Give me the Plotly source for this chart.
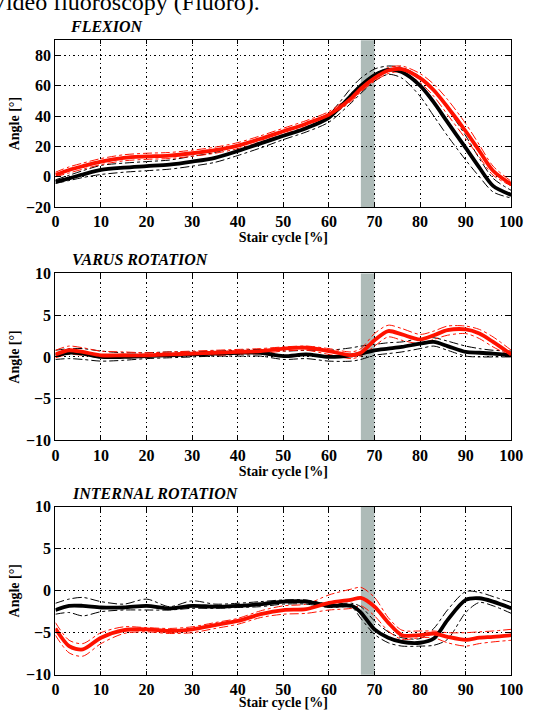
import plotly.graph_objects as go

# ---------------- data ----------------
cycle = [0, 3, 6, 10, 15, 20, 25, 30, 35, 40, 45, 50, 55, 60, 65, 67, 70, 73, 76, 80, 83, 86, 90, 93, 96, 100]

flex_black_mean = [-3.4, -1, 1.5, 4.5, 6, 7, 8, 10, 12.5, 17, 22, 27, 32, 39, 54, 60, 67, 70.5, 69, 60, 49, 36, 19, 6, -6, -12]
flex_black_up = [-2, 1, 4, 7.5, 9, 10, 11, 13.5, 16, 20.5, 25, 29.5, 34.5, 41.5, 59, 65, 71, 73, 72, 66, 57, 45, 27, 12, -1, -9]
flex_black_lo = [-4.4, -2.5, -0.5, 1.5, 3, 4, 5, 7, 9.5, 14, 19, 24.5, 29.5, 36, 49, 55, 63, 67.5, 65, 53, 40, 27, 11, 0, -10, -14]
flex_red_mean = [1.3, 4.5, 7, 10, 12.5, 13.4, 14, 15.5, 17.5, 20.5, 25, 30, 35, 41, 52, 58, 65, 70, 71, 65, 57, 46, 30, 17, 4, -5]
flex_red_up = [3, 6.5, 9, 12, 14.5, 15.5, 16, 17.5, 19.5, 22.5, 27, 32, 37, 43, 54, 60, 67, 72, 73, 68, 61, 51, 35, 21, 7, -3]
flex_red_lo = [0, 2.5, 5, 8, 10.5, 11.5, 12, 13.5, 15.5, 18.5, 23, 28, 33, 39.5, 50, 56, 63, 68, 69, 62, 53, 41, 25, 13, 1, -6]

var_black_mean = [0.2, 0.5, 0.4, 0.0, 0.0, 0.1, 0.2, 0.3, 0.4, 0.5, 0.5, 0.1, 0.3, 0.0, 0.2, 0.4, 0.8, 1.0, 1.2, 1.6, 1.8, 1.3, 0.6, 0.5, 0.4, 0.2]
var_black_up = [0.8, 1.0, 1.0, 0.7, 0.5, 0.5, 0.6, 0.6, 0.7, 0.8, 0.9, 0.7, 0.8, 0.8, 1.1, 1.3, 1.5, 1.7, 1.8, 2.2, 2.3, 1.9, 1.3, 1.0, 0.8, 0.7]
var_black_lo = [-0.3, -0.2, -0.3, -0.5, -0.4, -0.2, -0.1, 0.0, 0.1, 0.1, 0.1, -0.3, -0.2, -0.5, -0.5, -0.3, 0.2, 0.4, 0.6, 1.0, 1.3, 0.8, 0.1, 0.0, 0.0, 0.0]
var_red_mean = [0.3, 0.8, 0.6, 0.2, 0.2, 0.2, 0.3, 0.4, 0.5, 0.6, 0.7, 1.0, 1.1, 0.7, 0.2, 0.5, 2.0, 3.1, 2.7, 2.1, 2.6, 3.2, 3.3, 2.8, 1.8, 0.3]
var_red_up = [0.8, 1.3, 1.1, 0.7, 0.6, 0.5, 0.6, 0.7, 0.8, 0.9, 1.0, 1.2, 1.3, 1.0, 0.6, 1.0, 2.8, 3.8, 3.4, 2.7, 3.1, 3.7, 3.7, 3.3, 2.4, 0.8]
var_red_lo = [-0.1, 0.3, 0.2, -0.1, -0.1, 0.0, 0.1, 0.2, 0.2, 0.3, 0.4, 0.7, 0.8, 0.3, -0.2, 0.1, 1.3, 2.4, 2.0, 1.6, 2.1, 2.6, 2.8, 2.2, 1.2, 0.1]

int_black_mean = [-2.3, -1.8, -1.8, -2.0, -2.0, -1.8, -2.1, -1.8, -1.9, -1.8, -1.6, -1.3, -1.3, -1.8, -1.8, -2.6, -4.6, -5.6, -6.1, -6.2, -5.7, -3.5, -1.1, -0.9, -1.3, -2.1]
int_black_up = [-1.5, -1.0, -0.8, -1.3, -1.6, -1.0, -1.9, -1.2, -1.6, -1.5, -1.3, -1.1, -1.1, -1.6, -1.5, -1.9, -3.6, -4.9, -5.6, -5.7, -4.5, -2.3, -0.1, -0.2, -0.7, -1.4]
int_black_lo = [-2.8, -2.6, -3.0, -2.5, -2.3, -2.3, -2.3, -2.1, -2.1, -2.0, -1.9, -1.6, -1.6, -2.0, -2.0, -3.3, -5.2, -6.2, -6.6, -6.6, -6.5, -5.8, -2.6, -1.4, -1.8, -2.7]
int_red_mean = [-4.5, -6.6, -7.0, -5.6, -4.7, -4.6, -4.8, -4.6, -4.1, -3.6, -2.8, -2.3, -2.2, -1.45, -1.05, -0.85, -1.9, -3.8, -5.3, -5.3, -5.1, -5.5, -5.85, -5.6, -5.5, -5.3]
int_red_up = [-3.8, -5.9, -6.3, -5.0, -4.3, -4.4, -4.5, -4.3, -3.8, -3.3, -2.4, -1.8, -1.6, -0.5, 0.2, 0.4, -0.8, -3.2, -4.7, -4.8, -4.8, -5.0, -5.0, -4.9, -4.8, -4.6]
int_red_lo = [-5.3, -7.4, -7.8, -6.3, -5.1, -4.9, -5.1, -5.0, -4.5, -4.0, -3.2, -2.8, -2.7, -2.3, -2.1, -1.8, -3.0, -4.8, -5.8, -5.6, -5.6, -6.2, -6.6, -6.3, -6.1, -5.9]

panel_titles = ["FLEXION", "VARUS ROTATION", "INTERNAL ROTATION"]
y_ranges = [[-20, 90], [-10, 10], [-10, 10]]
y_tickvals = [[-20, 0, 20, 40, 60, 80], [-10, -5, 0, 5, 10], [-10, -5, 0, 5, 10]]
x_tickvals = [0, 10, 20, 30, 40, 50, 60, 70, 80, 90, 100]
x_title = "Stair cycle [%]"
y_title = "Angle [°]"
header = "Video fluoroscopy (Fluoro)."
band_x = [67, 70]

panels = [
    (flex_black_mean, flex_black_up, flex_black_lo, flex_red_mean, flex_red_up, flex_red_lo),
    (var_black_mean, var_black_up, var_black_lo, var_red_mean, var_red_up, var_red_lo),
    (int_black_mean, int_black_up, int_black_lo, int_red_mean, int_red_up, int_red_lo),
]

# ---------------- layout geometry (pixels) ----------------
W, H = 533, 710
x_dom = [53 / W, 523 / W]
y_px = [(33, 204), (272, 443), (511, 683)]
title_y_px = [19, 258, 497]
title_x_px = [66, 68, 68]

FONT = "Liberation Serif"
RED = "#ff1200"
GRID = dict(showgrid=True, gridcolor="black", gridwidth=1, griddash="1.5px,3px")

fig = go.Figure()
layout = {}
shapes = []
annotations = []

for i, (bm, bu, bl, rm, ru, rl) in enumerate(panels):
    n = i + 1
    xa = "x" if n == 1 else f"x{n}"
    ya = "y" if n == 1 else f"y{n}"
    for arr, col, w, dash in [
        (bu, "black", 1, "dashdot"), (bl, "black", 1, "dashdot"),
        (ru, RED, 1, "dashdot"), (rl, RED, 1, "dashdot"),
        (bm, "black", 3.8, "solid"), (rm, RED, 3.8, "solid"),
    ]:
        fig.add_trace(go.Scatter(
            x=cycle, y=arr, mode="lines", xaxis=xa, yaxis=ya,
            line=dict(color=col, width=w, dash=dash, shape="spline", smoothing=0.8),
            showlegend=False, hoverinfo="skip"))

    top, bot = y_px[i]
    dom = [1 - bot / H, 1 - top / H]
    xkey = "xaxis" if n == 1 else f"xaxis{n}"
    ykey = "yaxis" if n == 1 else f"yaxis{n}"
    layout[xkey] = dict(
        domain=x_dom, anchor=ya, range=[0, 100], tickmode="array",
        tickvals=x_tickvals, ticktext=[str(v) for v in x_tickvals],
        showline=True, linecolor="black", linewidth=1.2, mirror="ticks",
        ticks="inside", ticklen=4, tickcolor="black",
        zeroline=False, ticklabeloverflow="allow", **GRID,
        tickfont=dict(family=FONT, size=16, color="black", weight="bold"),
        title=dict(text=x_title, standoff=0,
                   font=dict(family=FONT, size=14, color="black", weight="bold")),
    )
    layout[ykey] = dict(
        domain=dom, anchor=xa, range=y_ranges[i], tickmode="array",
        tickvals=y_tickvals[i],
        showline=True, linecolor="black", linewidth=1.2, mirror="ticks",
        ticks="inside", ticklen=4, tickcolor="black",
        zeroline=False, ticklabeloverflow="allow", **GRID,
        tickfont=dict(family=FONT, size=16, color="black", weight="bold"),
        title=dict(text=y_title, standoff=3,
                   font=dict(family=FONT, size=14, color="black", weight="bold")),
    )
    shapes.append(dict(type="rect", xref=xa, yref=f"{ya} domain",
                       x0=band_x[0], x1=band_x[1], y0=0, y1=1,
                       fillcolor="#aebbb8", line=dict(width=0), layer="below"))
    annotations.append(dict(
        text=f"<b><i>{panel_titles[i]}</i></b>", xref="paper", yref="paper",
        x=title_x_px[i] / W, y=1 - title_y_px[i] / H, xanchor="left", yanchor="middle",
        showarrow=False, font=dict(family=FONT, size=16, color="black")))

annotations.append(dict(
    text=header, xref="paper", yref="paper", x=-17 / W, y=1 - 9 / H,
    xanchor="left", yanchor="bottom", showarrow=False,
    font=dict(family=FONT, size=24, color="black")))

fig.update_layout(
    width=W, height=H, margin=dict(l=0, r=0, t=0, b=0),
    paper_bgcolor="white", plot_bgcolor="white",
    shapes=shapes, annotations=annotations, **layout)

fig.write_html(
    "out.html",
    config={"displayModeBar": False},
    post_script="document.body.style.margin='0';document.body.style.overflow='hidden';",
)
